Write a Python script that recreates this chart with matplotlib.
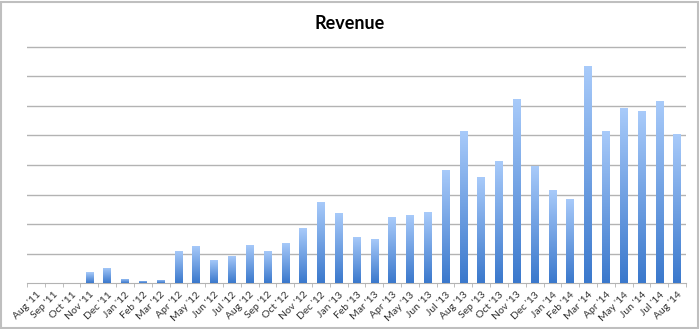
import numpy as np
import matplotlib.pyplot as plt
from matplotlib.patches import Rectangle
from matplotlib.colors import LinearSegmentedColormap

months = ["Aug '11", "Sep '11", "Oct '11", "Nov '11", "Dec '11", "Jan '12", "Feb '12",
          "Mar '12", "Apr '12", "May '12", "Jun '12", "Jul '12", "Aug '12", "Sep '12",
          "Oct '12", "Nov '12", "Dec '12", "Jan '13", "Feb '13", "Mar '13", "Apr '13",
          "May '13", "Jun '13", "Jul '13", "Aug '13", "Sep '13", "Oct '13", "Nov '13",
          "Dec '13", "Jan '14", "Feb '14", "Mar '14", "Apr '14", "May '14", "Jun '14",
          "Jul '14", "Aug '14"]
revenue = [0, 0, 0, 0.37, 0.51, 0.16, 0.07, 0.11, 1.10, 1.26, 0.79, 0.93, 1.29, 1.09,
           1.36, 1.86, 2.76, 2.38, 1.57, 1.50, 2.23, 2.30, 2.40, 3.84, 5.15, 3.59,
           4.13, 6.23, 3.96, 3.16, 2.85, 7.35, 5.15, 5.94, 5.81, 6.16, 5.06]

plt.rcParams['font.family'] = ['Lato', 'DejaVu Sans']

fig = plt.figure(figsize=(7, 3.29), dpi=100)
fig.patches.append(Rectangle((0.002, 0.003), 0.995, 0.992, transform=fig.transFigure,
                             fill=False, edgecolor="#bfbfbf", linewidth=1.5))
ax = fig.add_axes([0.0386, 0.139, 0.9414, 0.728])

x = np.arange(len(months))
bars = ax.bar(x, revenue, width=0.42, color="none", edgecolor="none", zorder=3)

# vertical gradient: light blue on top, darker blue at bottom
grad = np.linspace(0, 1, 256).reshape(-1, 1)
cmap = LinearSegmentedColormap.from_list("g", ["#3a78cc", "#a9cbfa"])
for b in bars:
    h = b.get_height()
    if h <= 0:
        continue
    x0 = b.get_x()
    im = ax.imshow(grad, extent=[x0, x0 + b.get_width(), 0, h], origin="lower",
                   cmap=cmap, aspect="auto", zorder=3)
    im.set_clip_path(b)

ax.set_xlim(-0.5, len(months) - 0.5)
ax.set_ylim(0, 8.1)
ax.set_yticks(np.arange(1, 9))
ax.set_yticklabels([])
ax.tick_params(axis="y", length=0)
ax.grid(axis="y", color="#b3b3b3", linewidth=1)
ax.set_axisbelow(True)

ax.set_xticks(x)
ax.set_xticklabels(months, rotation=45, ha="right", rotation_mode="anchor",
                   fontsize=7.5, color="#333333")
ax.set_xticks(np.arange(-0.5, len(months)), minor=True)
ax.tick_params(axis="x", which="major", length=0, pad=5)
ax.tick_params(axis="x", which="minor", length=3, color="#b3b3b3")

for s in ["top", "right", "left"]:
    ax.spines[s].set_visible(False)
ax.spines["bottom"].set_color("#b3b3b3")

fig.text(0.5, 0.93, "Revenue", ha="center", va="center", fontsize=13, fontweight="bold")

fig.savefig("out.png", dpi=100)
